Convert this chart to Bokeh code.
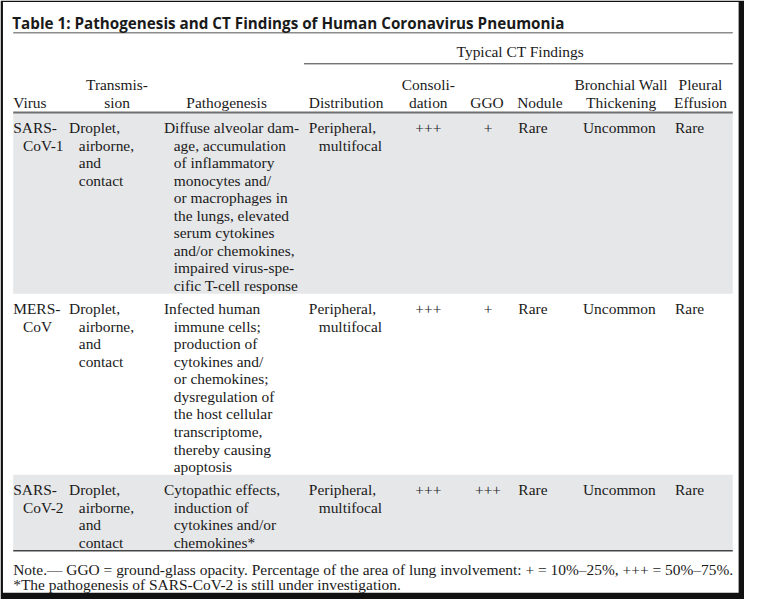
from bokeh.plotting import figure
from bokeh.models import Range1d, ColumnDataSource
from bokeh.core.properties import value
from bokeh.embed import file_html
from bokeh.resources import INLINE

# ---------------- data ----------------
title = "Table 1: Pathogenesis and CT Findings of Human Coronavirus Pneumonia"
group_header = "Typical CT Findings"
headers = [
    ["", "Virus"],
    ["Transmis-", "sion"],
    ["", "Pathogenesis"],
    ["", "Distribution"],
    ["Consoli-", "dation"],
    ["", "GGO"],
    ["", "Nodule"],
    ["Bronchial Wall", "Thickening"],
    ["Pleural", "Effusion"],
]
viruses = [["SARS-", "CoV-1"], ["MERS-", "CoV"], ["SARS-", "CoV-2"]]
transmission = [["Droplet,", "airborne,", "and", "contact"]] * 3
pathogenesis = [
    ["Diffuse alveolar dam-", "age, accumulation", "of inflammatory", "monocytes and/",
     "or macrophages in", "the lungs, elevated", "serum cytokines",
     "and/or chemokines,", "impaired virus-spe-", "cific T-cell response"],
    ["Infected human", "immune cells;", "production of", "cytokines and/",
     "or chemokines;", "dysregulation of", "the host cellular",
     "transcriptome,", "thereby causing", "apoptosis"],
    ["Cytopathic effects,", "induction of", "cytokines and/or", "chemokines*"],
]
distribution = [["Peripheral,", "multifocal"]] * 3
consolidation = ["+++", "+++", "+++"]
ggo = ["+", "+", "+++"]
nodule = ["Rare", "Rare", "Rare"]
bronchial = ["Uncommon", "Uncommon", "Uncommon"]
pleural = ["Rare", "Rare", "Rare"]
notes = [
    "Note.\u2014 GGO = ground-glass opacity. Percentage of the area of lung involvement: + = 10%\u201325%, +++ = 50%\u201375%.",
    "*The pathogenesis of SARS-CoV-2 is still under investigation.",
]

# ---------------- layout ----------------
W, H = 760, 615
PW, PH = 744, 599
FS = (PW / W + PH / H) / 2
SERIF = "Liberation Serif"
SANS = "Open Sans"
BODY = 15.8
LH = 18  # line height
INDENT = 10
L, R = 13, 748
HEAD_RULE = 115
shaded = [True, False, True]

col_left = [13, 70, 167, 315]           # multi-line cells, hanging indent
col_center = {"cons": 437, "ggo": 498}
col_leftsimple = {"nod": 529, "bro": 595, "ple": 689}
head_pos = [(13, "left"), (119, "center"), (231, "center"), (315, "left"),
            (437, "center"), (497, "center"), (551, "center"), (634, "center"),
            (715, "center")]


def fs(px):
    return f"{px * FS:.2f}px"


# row geometry from line counts
row_tops, row_bots = [], []
top = HEAD_RULE
for r in range(len(viruses)):
    n = max(len(viruses[r]), len(transmission[r]), len(pathogenesis[r]), len(distribution[r]))
    row_tops.append(top)
    top = top + n * LH + 6
    row_bots.append(top)
row_bottom = row_bots[-1]

p = figure(width=PW, height=PH, x_range=Range1d(0, W), y_range=Range1d(H, 0),
           output_backend="svg", toolbar_location=None, min_border=0)
p.axis.visible = False
p.grid.visible = False
p.outline_line_color = None
p.background_fill_color = "white"
p.border_fill_color = "white"

# frame
p.quad(left=[0], right=[W], top=[0], bottom=[H], fill_color="#111111", line_color=None)
p.quad(left=[2.5], right=[754], top=[1.5], bottom=[608], fill_color="white", line_color=None)

# row shading
sl, sr, st, sb = [], [], [], []
for i in range(len(row_tops)):
    if shaded[i]:
        sl.append(L); sr.append(R); st.append(row_tops[i]); sb.append(row_bots[i])
p.quad(left=sl, right=sr, top=st, bottom=sb, fill_color="#e6e7e9", line_color=None)

# rules
p.segment(x0=[L], y0=[33], x1=[R], y1=[33], line_color="#8c8c8c", line_width=1.5)
p.segment(x0=[310], y0=[65], x1=[R], y1=[65], line_color="#3a3a3a", line_width=1)
p.segment(x0=[L], y0=[HEAD_RULE], x1=[R], y1=[HEAD_RULE], line_color="#707070", line_width=2)
p.segment(x0=[L], y0=[row_bottom], x1=[R], y1=[row_bottom], line_color="#444444", line_width=1.5)

# title
p.text(x=[12], y=[23], text=[title], text_font=value(SANS), text_font_style="bold",
       text_font_size=fs(15.6), text_color="#1a1a1a", text_baseline="alphabetic",
       text_align="left")

tx = {"left": ([], [], []), "center": ([], [], [])}


def add(x, y, t, align="left"):
    tx[align][0].append(x)
    tx[align][1].append(y)
    tx[align][2].append(t)


add(531, 52, group_header, "center")
for (x, al), (h1, h2) in zip(head_pos, headers):
    if h1:
        add(x, 86, h1, al)
    add(x, 105, h2, al)

multi = [viruses, transmission, pathogenesis, distribution]
for r in range(3):
    yb = row_tops[r] + 15.5
    for c, col in enumerate(multi):
        for k, line in enumerate(col[r]):
            add(col_left[c] + (INDENT if k else 0), yb + k * LH, line, "left")
    add(col_center["cons"], yb, consolidation[r], "center")
    add(col_center["ggo"], yb, ggo[r], "center")
    add(col_leftsimple["nod"], yb, nodule[r], "left")
    add(col_leftsimple["bro"], yb, bronchial[r], "left")
    add(col_leftsimple["ple"], yb, pleural[r], "left")

add(13, row_bottom + 19, notes[0], "left")
add(13, row_bottom + 35, notes[1], "left")

for al, (xs, ys, ts) in tx.items():
    src = ColumnDataSource(dict(x=xs, y=ys, text=ts))
    p.text(x="x", y="y", text="text", source=src, text_font=value(SERIF),
           text_font_size=fs(BODY), text_color="#1a1a1a", text_baseline="alphabetic",
           text_align=al)

open("out.html", "w").write(file_html(p, INLINE))
